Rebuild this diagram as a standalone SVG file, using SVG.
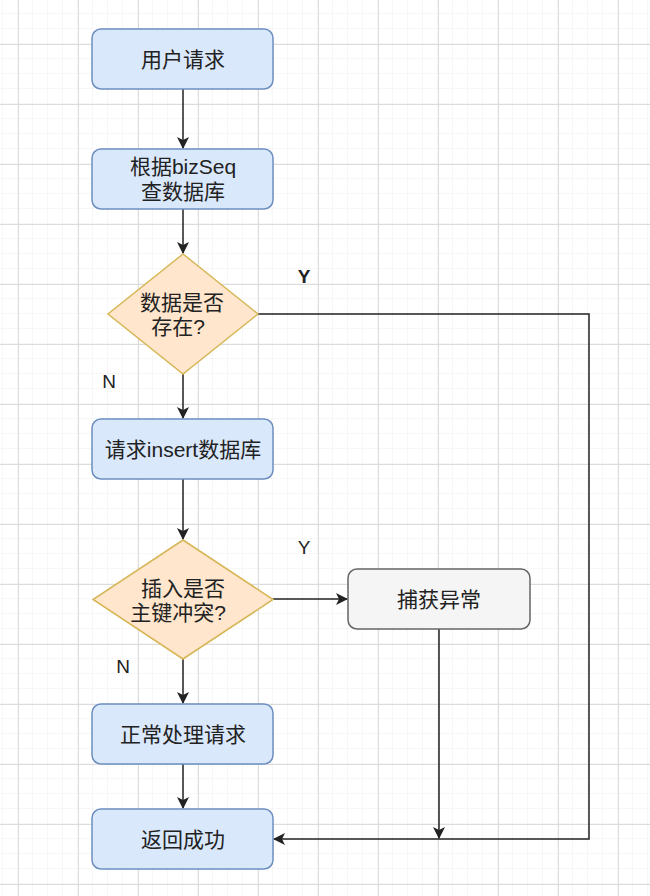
<svg xmlns="http://www.w3.org/2000/svg" width="650" height="896" viewBox="0 0 650 896">
<defs>
<pattern id="minor" x="3" y="14" width="15" height="15" patternUnits="userSpaceOnUse">
<path d="M15 0V15M0 15H15" fill="none" stroke="#efefef" stroke-width="1"/>
</pattern>
<pattern id="major" x="18" y="44" width="60" height="60" patternUnits="userSpaceOnUse">
<path d="M0.5 0V60M0 0.5H60" fill="none" stroke="#dcdcdc" stroke-width="1"/>
</pattern>
<marker id="arr" viewBox="0 0 12 12" refX="11" refY="6" markerWidth="12" markerHeight="12" markerUnits="userSpaceOnUse" orient="auto">
<path d="M0 0L12 6L0 12L3 6Z" fill="#222"/>
</marker>
</defs>
<style>
.blue{fill:#dae8fc;stroke:#6c8ebf;stroke-width:1.5}
.gray{fill:#f5f5f5;stroke:#666;stroke-width:1.5}
.dia{fill:#ffe6cc;stroke:#d6b656;stroke-width:1.5}
.t{font-family:"Liberation Sans","Noto Sans CJK SC",sans-serif;font-size:21px;fill:#222;text-anchor:middle;dominant-baseline:central}
.lab{font-family:"Liberation Sans","Noto Sans CJK SC",sans-serif;font-size:19px;fill:#222;text-anchor:middle;dominant-baseline:central}
.e{fill:none;stroke:#222;stroke-width:1.5}
</style>
<rect width="650" height="896" fill="#fff"/>
<rect width="650" height="896" fill="url(#minor)"/>
<rect width="650" height="896" fill="url(#major)"/>
<g id="connectors">
<path class="e" d="M183 89V148" marker-end="url(#arr)"/>
<path class="e" d="M183 209V253" marker-end="url(#arr)"/>
<path class="e" d="M183 374V418" marker-end="url(#arr)"/>
<path class="e" d="M183 479V539" marker-end="url(#arr)"/>
<path class="e" d="M273 599H347" marker-end="url(#arr)"/>
<path class="e" d="M183 659V703" marker-end="url(#arr)"/>
<path class="e" d="M183 764V808" marker-end="url(#arr)"/>
<path class="e" d="M258 314H589V839H274" marker-end="url(#arr)"/>
<path class="e" d="M439 629V838" marker-end="url(#arr)"/>
<text class="lab" x="304" y="276" font-weight="bold">Y</text>
<text class="lab" x="109" y="381">N</text>
<text class="lab" x="304" y="547">Y</text>
<text class="lab" x="123" y="666">N</text>
</g>
<g id="n1"><rect class="blue" x="92" y="29" width="181" height="60" rx="9"/><text class="t" x="183" y="59">用户请求</text></g>
<g id="n2"><rect class="blue" x="92" y="149" width="181" height="60" rx="9"/><text class="t" x="183" y="166">根据bizSeq</text><text class="t" x="183" y="191">查数据库</text></g>
<g id="d1"><path class="dia" d="M183 254L258 314L183 374L108 314Z"/><text class="t" x="182" y="302">数据是否</text><text class="t" x="178" y="326">存在?</text></g>
<g id="n3"><rect class="blue" x="92" y="419" width="181" height="60" rx="9"/><text class="t" x="183" y="449">请求insert数据库</text></g>
<g id="d2"><path class="dia" d="M183 540L273 599.5L183 659L93 599.5Z"/><text class="t" x="183" y="588">插入是否</text><text class="t" x="178" y="612">主键冲突?</text></g>
<g id="n4"><rect class="gray" x="348" y="569" width="182" height="60" rx="9"/><text class="t" x="439" y="599">捕获异常</text></g>
<g id="n5"><rect class="blue" x="92" y="704" width="181" height="60" rx="9"/><text class="t" x="183" y="734">正常处理请求</text></g>
<g id="n6"><rect class="blue" x="92" y="809" width="181" height="60" rx="9"/><text class="t" x="183" y="839">返回成功</text></g>
</svg>
